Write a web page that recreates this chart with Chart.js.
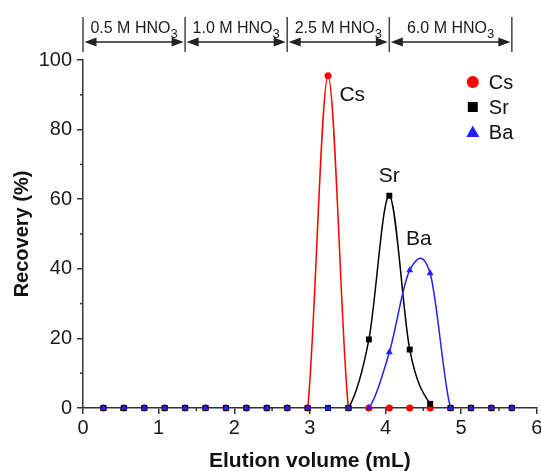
<!DOCTYPE html>
<html>
<head>
<meta charset="utf-8">
<script src="https://cdn.jsdelivr.net/npm/chart.js@4.4.1/dist/chart.umd.min.js"></script>
<style>
    html, body { margin: 0; padding: 0; background: #fff; }
</style>
</head>
<body>
<canvas id="chartElution" width="541" height="471"></canvas>
<script>
// ===== DADOS =====
const volumes = [0.27, 0.54, 0.81, 1.08, 1.35, 1.62, 1.89, 2.16, 2.43, 2.70, 2.97,
                 3.24, 3.51, 3.78, 4.05, 4.32, 4.59, 4.86, 5.13, 5.40, 5.67];
const csRecovery = [0, 0, 0, 0, 0, 0, 0, 0, 0, 0, 0, 95.5, 0, 0, 0, 0, 0, 0, 0, 0, 0];
const srRecovery = [0, 0, 0, 0, 0, 0, 0, 0, 0, 0, 0, 0, 0, 19.7, 61, 16.8, 1.2, 0, 0, 0, 0];
const baRecovery = [0, 0, 0, 0, 0, 0, 0, 0, 0, 0, 0, 0, 0, 0, 16, 39.6, 38.7, 0, 0, 0, 0];

const elements = ['Cs', 'Sr', 'Ba'];
const peakLabelX = [3.56, 4.05, 4.44];
const peakLabelY = [90, 66.5, 48.5];

const eluentLabels = ['0.5 M HNO', '1.0 M HNO', '2.5 M HNO', '6.0 M HNO'];
const eluentEdges = [0, 1.35, 2.70, 4.05, 5.67];

const xMajorTicks = [0, 1, 2, 3, 4, 5, 6];
const xMinorTicks = [0.5, 1.5, 2.5, 3.5, 4.5, 5.5];
const yMajorTicks = [0, 20, 40, 60, 80, 100];
const yMinorTicks = [10, 30, 50, 70, 90];

// Cores / estilos
const colors = { cs: '#ff0000', sr: '#000000', ba: '#2020ff', axis: '#333', text: '#1a1a1a' };
const FONT = "'Liberation Sans', Arial, sans-serif";

function toPoints(values) {
    return volumes.map((v, i) => ({ x: v, y: values[i] }));
}

// curvas suaves (spline) passando pelos pontos
const splinePlugin = {
    id: 'splineLines',
    beforeDatasetsDraw(chart) {
        const { ctx, chartArea } = chart;
        ctx.save();
        ctx.beginPath();
        ctx.rect(chartArea.left, chartArea.top, chartArea.width, chartArea.height - 1);
        ctx.clip();
        chart.data.datasets.forEach((ds, i) => {
            const pts = chart.getDatasetMeta(i).data;
            ctx.beginPath();
            ctx.moveTo(pts[0].x, pts[0].y);
            for (let k = 0; k < pts.length - 1; k++) {
                const p0 = pts[k - 1] || pts[k];
                const p1 = pts[k];
                const p2 = pts[k + 1];
                const p3 = pts[k + 2] || pts[k + 1];
                ctx.bezierCurveTo(
                    p1.x + (p2.x - p0.x) / 6, p1.y + (p2.y - p0.y) / 6,
                    p2.x - (p3.x - p1.x) / 6, p2.y - (p3.y - p1.y) / 6,
                    p2.x, p2.y);
            }
            ctx.strokeStyle = ds.borderColor;
            ctx.lineWidth = 1.5;
            ctx.stroke();
        });
        ctx.restore();
    }
};

function drawMarker(ctx, style, x, y, color) {
    ctx.fillStyle = color;
    ctx.beginPath();
    if (style === 'circle') {
        ctx.arc(x, y, 6, 0, Math.PI * 2);
    } else if (style === 'rect') {
        ctx.rect(x - 5, y - 5, 10, 10);
    } else {
        ctx.moveTo(x, y - 6.5);
        ctx.lineTo(x + 6.5, y + 5);
        ctx.lineTo(x - 6.5, y + 5);
        ctx.closePath();
    }
    ctx.fill();
}

// anotações: faixas de eluente, rótulos dos picos, legenda, ticks menores
const annotationPlugin = {
    id: 'annotations',
    afterDraw(chart) {
        const { ctx, chartArea } = chart;
        const xs = chart.scales.x, ys = chart.scales.y;
        ctx.save();

        // ticks menores
        ctx.strokeStyle = colors.axis;
        ctx.lineWidth = 1.5;
        xMinorTicks.forEach(v => {
            const px = xs.getPixelForValue(v);
            ctx.beginPath();
            ctx.moveTo(px, chartArea.bottom);
            ctx.lineTo(px, chartArea.bottom + 3);
            ctx.stroke();
        });
        yMinorTicks.forEach(v => {
            const py = ys.getPixelForValue(v);
            ctx.beginPath();
            ctx.moveTo(chartArea.left - 3, py);
            ctx.lineTo(chartArea.left, py);
            ctx.stroke();
        });

        // faixas de HNO3
        const barTop = chartArea.top - 43, barBottom = chartArea.top - 8, arrowY = chartArea.top - 18;
        ctx.strokeStyle = '#444';
        ctx.fillStyle = '#222';
        eluentEdges.forEach(v => {
            const px = xs.getPixelForValue(v);
            ctx.beginPath();
            ctx.moveTo(px, barTop);
            ctx.lineTo(px, barBottom);
            ctx.stroke();
        });
        for (let i = 0; i < eluentLabels.length; i++) {
            const a = xs.getPixelForValue(eluentEdges[i]) + 1.5;
            const b = xs.getPixelForValue(eluentEdges[i + 1]) - 1.5;
            ctx.strokeStyle = '#222';
            ctx.beginPath();
            ctx.moveTo(a + 8, arrowY);
            ctx.lineTo(b - 8, arrowY);
            ctx.stroke();
            ctx.beginPath();
            ctx.moveTo(a, arrowY);
            ctx.lineTo(a + 12, arrowY - 4.5);
            ctx.lineTo(a + 12, arrowY + 4.5);
            ctx.closePath();
            ctx.fill();
            ctx.beginPath();
            ctx.moveTo(b, arrowY);
            ctx.lineTo(b - 12, arrowY - 4.5);
            ctx.lineTo(b - 12, arrowY + 4.5);
            ctx.closePath();
            ctx.fill();

            // texto com subscrito
            ctx.font = '16px ' + FONT;
            const w1 = ctx.measureText(eluentLabels[i]).width;
            ctx.font = '13px ' + FONT;
            const w2 = ctx.measureText('3').width;
            const startX = (a + b) / 2 - (w1 + w2) / 2;
            ctx.fillStyle = colors.text;
            ctx.textAlign = 'left';
            ctx.textBaseline = 'alphabetic';
            ctx.font = '16px ' + FONT;
            ctx.fillText(eluentLabels[i], startX, chartArea.top - 27);
            ctx.font = '13px ' + FONT;
            ctx.fillText('3', startX + w1, chartArea.top - 22);
            ctx.fillStyle = '#222';
        }

        // rótulos dos picos
        ctx.fillStyle = '#111';
        ctx.font = '21px ' + FONT;
        ctx.textAlign = 'center';
        ctx.textBaseline = 'middle';
        elements.forEach((name, i) => {
            ctx.fillText(name, xs.getPixelForValue(peakLabelX[i]), ys.getPixelForValue(peakLabelY[i]));
        });

        // legenda
        const lx = chartArea.right - 64;
        const ly = chartArea.top + 22;
        const styles = ['circle', 'rect', 'triangle'];
        const cols = [colors.cs, colors.sr, colors.ba];
        elements.forEach((name, i) => {
            const y = ly + i * 25;
            drawMarker(ctx, styles[i], lx, y, cols[i]);
            ctx.fillStyle = '#111';
            ctx.font = '20px ' + FONT;
            ctx.textAlign = 'left';
            ctx.textBaseline = 'middle';
            ctx.fillText(name, lx + 16, y + 1);
        });

        ctx.restore();
    }
};

function createChartElution() {
    const ctx = document.getElementById('chartElution');
    if (!ctx) return;

    new Chart(ctx, {
        type: 'scatter',
        data: {
            datasets: [
                {
                    label: 'Cs',
                    data: toPoints(csRecovery),
                    borderColor: colors.cs,
                    backgroundColor: colors.cs,
                    pointStyle: 'circle',
                    pointRadius: 3.5,
                    pointBorderWidth: 0,
                    showLine: false,
                    clip: false,
                    order: 3
                },
                {
                    label: 'Sr',
                    data: toPoints(srRecovery),
                    borderColor: colors.sr,
                    backgroundColor: colors.sr,
                    pointStyle: 'rect',
                    pointRadius: 4.2,
                    pointBorderWidth: 0,
                    showLine: false,
                    clip: false,
                    order: 2
                },
                {
                    label: 'Ba',
                    data: toPoints(baRecovery),
                    borderColor: colors.ba,
                    backgroundColor: colors.ba,
                    pointStyle: 'triangle',
                    pointRadius: 4,
                    pointBorderWidth: 0,
                    showLine: false,
                    clip: false,
                    order: 1
                }
            ]
        },
        options: {
            responsive: false,
            animation: false,
            layout: { padding: { top: 60, right: 3, left: 0, bottom: 0 } },
            plugins: {
                legend: { display: false },
                tooltip: { enabled: false }
            },
            scales: {
                x: {
                    type: 'linear',
                    min: 0,
                    max: 6,
                    afterBuildTicks: s => { s.ticks = xMajorTicks.map(v => ({ value: v })); },
                    afterFit: s => { s.height = 63; s.paddingLeft = 0; s.paddingRight = 0; },
                    grid: { drawOnChartArea: false, tickLength: 6, color: colors.axis, lineWidth: 1.5 },
                    border: { display: true, color: colors.axis, width: 1.5 },
                    ticks: { font: { family: FONT, size: 20 }, color: colors.text, padding: 2, maxRotation: 0, autoSkip: false },
                    title: {
                        display: true,
                        text: 'Elution volume (mL)',
                        font: { family: FONT, size: 21, weight: 'bold' },
                        color: '#111',
                        padding: { top: 0, bottom: -3 }
                    }
                },
                y: {
                    min: 0,
                    max: 100,
                    afterBuildTicks: s => { s.ticks = yMajorTicks.map(v => ({ value: v })); },
                    afterFit: s => { s.width = 83; },
                    grid: { drawOnChartArea: false, tickLength: 6, color: colors.axis, lineWidth: 1.5 },
                    border: { display: true, color: colors.axis, width: 1.5 },
                    ticks: { font: { family: FONT, size: 20 }, color: colors.text, padding: 5, autoSkip: false },
                    title: {
                        display: true,
                        text: 'Recovery (%)',
                        font: { family: FONT, size: 20, weight: 'bold' },
                        color: '#111',
                        padding: { top: 10, bottom: 0 }
                    }
                }
            }
        },
        plugins: [splinePlugin, annotationPlugin]
    });
}

document.addEventListener('DOMContentLoaded', createChartElution);
</script>
</body>
</html>
